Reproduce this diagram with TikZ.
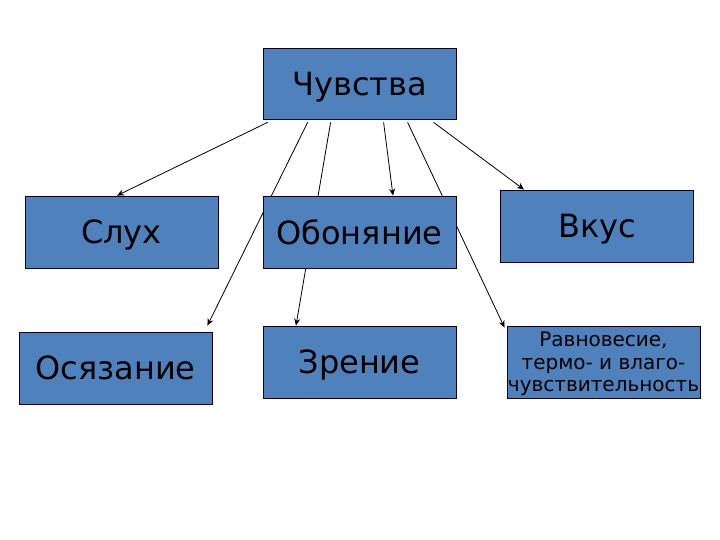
\documentclass[tikz,border=0pt]{standalone}
\usepackage{fontspec}
\setmainfont{DejaVu Sans}
\usetikzlibrary{backgrounds,arrows.meta}
\definecolor{boxblue}{HTML}{4F81BD}

\begin{document}
\begin{tikzpicture}[x=1bp,y=-1bp,->,>={Stealth[length=7bp,width=6bp]},main node/.style={draw=black!85!blue,fill=boxblue,line width=0.8bp,minimum width=193bp,minimum height=72bp,inner sep=1bp,text depth=0pt,font=\fontsize{32bp}{38bp}\selectfont}]

            \useasboundingbox (0,0) rectangle (720,540);

            \node[main node, minimum height=71bp] (senses) at (359.5,83.5) {Чувства};
            \node[main node] (hearing) at (121.5,232) {Слух};
            \node[main node] (smell) at (359.5,232) {Обоняние};
            \node[main node] (taste) at (597,226) {Вкус};
            \node[main node] (touch) at (115.5,368) {Осязание};
            \node[main node] (sight) at (359.5,362) {Зрение};
            \node[main node, align=center, font=\fontsize{20bp}{22.5bp}\selectfont] (balance) at (603.5,362) {Равновесие,\\ термо- и влаго-\\чувствительность};

            \begin{scope}[on background layer]
            \path[every edge/.style={draw,line width=0.8bp}]
                ([xshift=5bp,yshift=-3bp]senses.south west) edge ([xshift=-4.5bp]hearing.north)
                ([xshift=45bp,yshift=-3bp]senses.south west) edge ([xshift=-5bp,yshift=6bp]touch.north east)
                ([xshift=68bp,yshift=-3bp]senses.south west) edge ([xshift=-63.5bp]sight.north)
                ([xshift=121bp,yshift=-3bp]senses.south west) edge ([xshift=33.5bp]smell.north)
                ([xshift=145bp,yshift=-3bp]senses.south west) edge ([xshift=-2bp,yshift=-2bp]balance.north west)
                ([xshift=171bp,yshift=-3bp]senses.south west) edge ([xshift=-73bp]taste.north)
            ;
            \end{scope}
        \end{tikzpicture}
\end{document}
